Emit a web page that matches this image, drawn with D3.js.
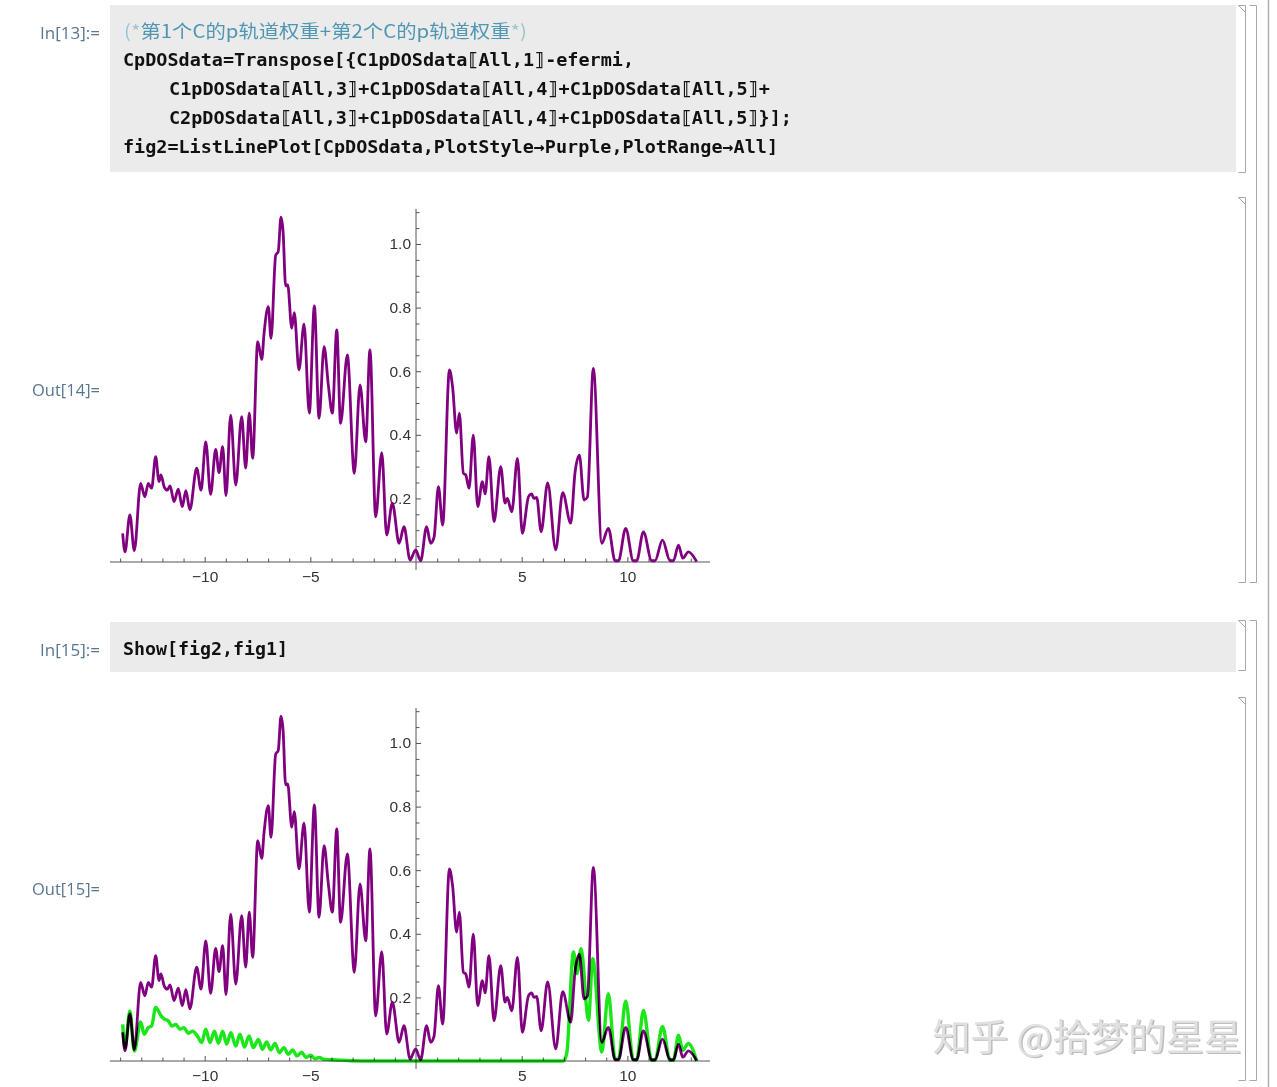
<!DOCTYPE html>
<html><head><meta charset="utf-8">
<script src="https://cdn.jsdelivr.net/npm/d3@7"></script>
<style>body{margin:0;background:#fff;} svg{display:block}</style>
</head><body>
<svg id="c" width="1277" height="1087"></svg>
<script>
// ---------- data ----------
const xTicksMajor = [-10, -5, 5, 10];
const xTicksMinor = [-14,-13,-12,-11,-9,-8,-7,-6,-4,-3,-2,-1,1,2,3,4,6,7,8,9,11,12,13];
const yTicksMajor = [0.2, 0.4, 0.6, 0.8, 1.0];
const yTicksMinor = [0.05,0.1,0.15,0.25,0.3,0.35,0.45,0.5,0.55,0.65,0.7,0.75,0.85,0.9,0.95,1.05,1.1];

// purple: C p-orbital weight sum (fig2)
const purpleDOS = [[-13.88,0.090],[-13.77,0.032],[-13.54,0.148],[-13.33,0.036],[-13.03,0.247],[-12.83,0.205],[-12.67,0.247],[-12.51,0.232],[-12.32,0.331],[-12.16,0.253],[-12.07,0.274],[-11.91,0.235],[-11.77,0.226],[-11.64,0.239],[-11.45,0.190],[-11.25,0.229],[-11.06,0.174],[-10.89,0.224],[-10.70,0.164],[-10.38,0.295],[-10.17,0.226],[-9.95,0.378],[-9.72,0.213],[-9.48,0.354],[-9.32,0.281],[-9.15,0.363],[-8.99,0.209],[-8.77,0.462],[-8.53,0.242],[-8.25,0.457],[-8.06,0.295],[-7.89,0.468],[-7.73,0.326],[-7.49,0.693],[-7.30,0.637],[-7.19,0.719],[-6.99,0.803],[-6.86,0.703],[-6.64,0.965],[-6.52,0.976],[-6.39,1.084],[-6.29,1.039],[-6.17,0.868],[-6.07,0.871],[-5.88,0.735],[-5.76,0.784],[-5.54,0.604],[-5.30,0.748],[-5.05,0.468],[-4.81,0.805],[-4.59,0.452],[-4.35,0.677],[-4.15,0.557],[-3.96,0.468],[-3.75,0.730],[-3.57,0.436],[-3.25,0.651],[-2.92,0.279],[-2.65,0.557],[-2.38,0.378],[-2.18,0.667],[-1.91,0.142],[-1.62,0.344],[-1.39,0.085],[-1.12,0.185],[-0.80,0.059],[-0.57,0.111],[-0.28,0.006],[-0.02,0.038],[0.22,0.004],[0.50,0.111],[0.69,0.059],[0.85,0.077],[1.06,0.237],[1.26,0.116],[1.58,0.604],[1.73,0.551],[1.92,0.405],[2.05,0.468],[2.24,0.279],[2.35,0.274],[2.51,0.232],[2.71,0.399],[2.92,0.174],[3.14,0.253],[3.27,0.214],[3.45,0.331],[3.69,0.127],[4.01,0.300],[4.21,0.185],[4.32,0.200],[4.53,0.158],[4.80,0.326],[5.03,0.090],[5.32,0.205],[5.47,0.214],[5.58,0.200],[5.71,0.203],[5.92,0.095],[6.23,0.249],[6.61,0.038],[6.94,0.218],[7.32,0.122],[7.52,0.279],[7.73,0.336],[7.95,0.195],[8.11,0.204],[8.39,0.609],[8.79,0.059],[9.10,0.106],[9.42,0.004],[9.58,0.004],[9.92,0.106],[10.28,0.004],[10.44,0.004],[10.76,0.095],[11.15,0.004],[11.31,0.004],[11.66,0.069],[12.02,0.004],[12.18,0.004],[12.42,0.053],[12.62,0.012],[12.89,0.032],[13.28,0.001]];

// green: fig1
const greenDOS = [[-13.88,0.115],[-13.77,0.042],[-13.54,0.157],[-13.33,0.031],[-13.03,0.123],[-12.86,0.084],[-12.67,0.105],[-12.51,0.110],[-12.32,0.168],[-12.04,0.140],[-11.88,0.131],[-11.72,0.126],[-11.56,0.110],[-11.36,0.115],[-11.17,0.100],[-10.98,0.105],[-10.77,0.087],[-10.57,0.094],[-10.35,0.079],[-10.14,0.058],[-9.95,0.100],[-9.75,0.058],[-9.54,0.094],[-9.35,0.056],[-9.15,0.094],[-8.96,0.053],[-8.76,0.089],[-8.53,0.047],[-8.33,0.084],[-8.12,0.044],[-7.90,0.079],[-7.70,0.042],[-7.46,0.068],[-7.27,0.037],[-7.07,0.060],[-6.88,0.035],[-6.67,0.055],[-6.47,0.026],[-6.25,0.042],[-6.04,0.021],[-5.84,0.035],[-5.63,0.016],[-5.41,0.028],[-5.21,0.011],[-4.98,0.018],[-4.78,0.007],[-4.58,0.011],[-4.35,0.005],[-3.91,0.004],[-3.12,0.001],[-2.0,0],[0,0],[3,0],[6.97,0],[7.13,0.023],[7.45,0.343],[7.61,0.275],[7.81,0.353],[8.16,0.128],[8.36,0.322],[8.79,0.028],[9.10,0.212],[9.42,0.006],[9.58,0.006],[9.92,0.189],[10.28,0.004],[10.44,0.004],[10.76,0.159],[11.15,0.002],[11.31,0.002],[11.66,0.109],[12.02,0.002],[12.18,0.002],[12.42,0.081],[12.62,0.034],[12.89,0.055],[13.28,0]];

const codeLines1 = [
  "CpDOSdata=Transpose[{C1pDOSdata⟦All,1⟧-efermi,",
  "C1pDOSdata⟦All,3⟧+C1pDOSdata⟦All,4⟧+C1pDOSdata⟦All,5⟧+",
  "C2pDOSdata⟦All,3⟧+C1pDOSdata⟦All,4⟧+C1pDOSdata⟦All,5⟧}];",
  "fig2=ListLinePlot[CpDOSdata,PlotStyle→Purple,PlotRange→All]"
];
const commentText = ["(*", "第1个C的p轨道权重+第2个C的p轨道权重", "*)"];
const codeLine2 = "Show[fig2,fig1]";
const cellLabels = ["In[13]:=", "Out[14]=", "In[15]:=", "Out[15]="];
const watermark = "知乎 @拾梦的星星";

// ---------- drawing ----------
const svg = d3.select("#c");
const labelColor = "#587690";
const mono = "'DejaVu Sans Mono', 'Liberation Mono', monospace";

// input cell backgrounds
svg.append("rect").attr("x",110).attr("y",5).attr("width",1126).attr("height",167).attr("fill","#ebebeb");
svg.append("rect").attr("x",110).attr("y",622).attr("width",1126).attr("height",50).attr("fill","#ebebeb");

// cell labels
const labelPos = [38.5, 396, 655.5, 895];
cellLabels.forEach((t,i)=>{
  const w = t.startsWith("Out") ? 68 : 60;
  svg.append("text").attr("x",100-w).attr("y",labelPos[i]).text(t)
    .attr("font-family","'Open Sans','Noto Sans',sans-serif").attr("font-size",15.5)
    .attr("fill",labelColor).attr("textLength",w).attr("lengthAdjust","spacingAndGlyphs");
});

// comment line
const cm = svg.append("text").attr("x",124).attr("y",37.5)
  .attr("font-family","'Noto Sans CJK SC','Noto Sans',sans-serif").attr("font-size",18)
  .attr("textLength",403).attr("lengthAdjust","spacingAndGlyphs");
cm.append("tspan").text(commentText[0]).attr("fill","#9fc3d2");
cm.append("tspan").text(commentText[1]).attr("fill","#4f96b3");
cm.append("tspan").text(commentText[2]).attr("fill","#9fc3d2");

// code lines
const codeX = [123,169,169,123], codeY = [66,95,124,153], codeW = [511,601,623,655];
codeLines1.forEach((t,i)=>{
  svg.append("text").attr("x",codeX[i]).attr("y",codeY[i]).text(t)
    .attr("font-family",mono).attr("font-weight","bold").attr("font-size",18)
    .attr("fill","#111").attr("textLength",codeW[i]).attr("lengthAdjust","spacingAndGlyphs");
});
svg.append("text").attr("x",123).attr("y",655).text(codeLine2)
  .attr("font-family",mono).attr("font-weight","bold").attr("font-size",18)
  .attr("fill","#111").attr("textLength",165).attr("lengthAdjust","spacingAndGlyphs");

// plots
function drawPlot(off, withGreen){
  const g = svg.append("g");
  const x = d3.scaleLinear().domain([-14.48, 13.91]).range([110, 710]);
  const y = d3.scaleLinear().domain([0, 1.11]).range([562+off, 209+off]);
  const axCol = "#555";
  g.append("line").attr("x1",110).attr("x2",710).attr("y1",y(0)).attr("y2",y(0)).attr("stroke",axCol);
  g.append("line").attr("x1",x(0)).attr("x2",x(0)).attr("y1",y(-0.025)).attr("y2",y(1.11)).attr("stroke",axCol);
  const xa = g.append("g").attr("transform",`translate(0,${y(0)})`)
    .call(d3.axisBottom(x).tickValues(xTicksMajor).tickSize(-5).tickPadding(9)
      .tickFormat(d => d<0 ? "\u2212"+Math.abs(d) : String(d)));
  const xm = g.append("g").attr("transform",`translate(0,${y(0)})`)
    .call(d3.axisBottom(x).tickValues(xTicksMinor).tickSize(-3.5).tickFormat(""));
  const ya = g.append("g").attr("transform",`translate(${x(0)},0)`)
    .call(d3.axisLeft(y).tickValues(yTicksMajor).tickSize(-5).tickPadding(5).tickFormat(d3.format(".1f")));
  const ym = g.append("g").attr("transform",`translate(${x(0)},0)`)
    .call(d3.axisLeft(y).tickValues(yTicksMinor).tickSize(-3.5).tickFormat(""));
  [xa,xm,ya,ym].forEach(a=>{
    a.select(".domain").remove();
    a.selectAll("line").attr("stroke",axCol);
    a.selectAll("text").attr("font-family","'Liberation Sans',Arial,sans-serif").attr("font-size",15.5).attr("fill","#333");
  });
  const line = d3.line().x(d=>x(d[0])).y(d=>y(d[1])).curve(d3.curveMonotoneX);
  g.append("path").datum(purpleDOS).attr("d",line).attr("fill","none")
    .attr("stroke","#800080").attr("stroke-width",2.8).attr("stroke-linejoin","round");
  if (withGreen){
    g.append("path").datum(greenDOS).attr("d",line).attr("fill","none")
      .attr("stroke","#1ae61a").attr("stroke-width",3.4).attr("stroke-linejoin","round")
      .style("mix-blend-mode","multiply");
  }
}
drawPlot(0,false);
drawPlot(499,true);

// watermark
svg.append("text").attr("x",934).attr("y",1052).text(watermark)
  .attr("font-family","'Noto Sans CJK SC',sans-serif").attr("font-size",37)
  .attr("fill","#bdbdbd").attr("textLength",309).attr("lengthAdjust","spacingAndGlyphs");
svg.append("text").attr("x",932.5).attr("y",1050.5).text(watermark)
  .attr("font-family","'Noto Sans CJK SC',sans-serif").attr("font-size",37)
  .attr("fill","#e0e0e0").attr("textLength",309).attr("lengthAdjust","spacingAndGlyphs");

// cell brackets
const bc = "#a8a8a8";
function bracket(x, y1, y2, hook){
  svg.append("path").attr("d",`M${x-7},${y1}H${x}V${y2}H${x-7}`).attr("fill","none").attr("stroke",bc);
  if (hook) svg.append("path").attr("d",`M${x-7},${y1}L${x},${y1+7}`).attr("fill","none").attr("stroke",bc);
}
bracket(1245.5,5.5,172.5,true);
bracket(1245.5,197.5,582.5,true);
bracket(1256.5,5.5,582.5,false);
bracket(1245.5,620.5,670.5,true);
bracket(1245.5,697.5,1080.5,true);
bracket(1256.5,620.5,1080.5,false);
svg.append("line").attr("x1",1268.5).attr("x2",1268.5).attr("y1",0).attr("y2",1087).attr("stroke","#b0b0b0").attr("stroke-width",1.5);
</script>
</body></html>
